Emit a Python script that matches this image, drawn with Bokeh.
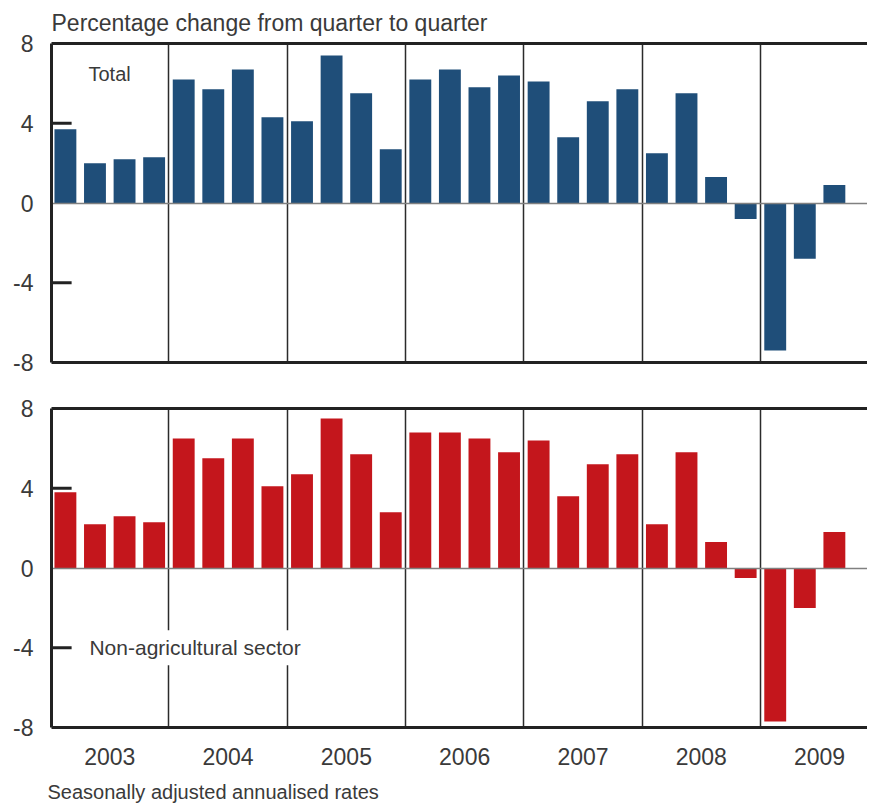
from bokeh.plotting import figure
from bokeh.models import Range1d, FixedTicker, LinearAxis, Label, Title
from bokeh.layouts import column
from bokeh.embed import file_html
from bokeh.resources import INLINE

# ---- data ----
years = ["2003", "2004", "2005", "2006", "2007", "2008", "2009"]
quarters = [f"{y} Q{q}" for y in years for q in (1, 2, 3, 4)][:27]
total = [3.7, 2.0, 2.2, 2.3,
         6.2, 5.7, 6.7, 4.3,
         4.1, 7.4, 5.5, 2.7,
         6.2, 6.7, 5.8, 6.4,
         6.1, 3.3, 5.1, 5.7,
         2.5, 5.5, 1.3, -0.8,
         -7.4, -2.8, 0.9]
non_agri = [3.8, 2.2, 2.6, 2.3,
            6.5, 5.5, 6.5, 4.1,
            4.7, 7.5, 5.7, 2.8,
            6.8, 6.8, 6.5, 5.8,
            6.4, 3.6, 5.2, 5.7,
            2.2, 5.8, 1.3, -0.5,
            -7.7, -2.0, 1.8]
y_ticks = [-8, -4, 0, 4, 8]
y_tick_labels = ["-8", "-4", "0", "4", "8"]
title_text = "Percentage change from quarter to quarter"
footer_text = "Seasonally adjusted annualised rates"

BLUE = "#1f4e79"
RED = "#c4161c"
TXT = "#3a3a3a"
FONT = "Liberation Sans"

idx = list(range(len(quarters)))
dividers = [4 * k - 0.5 for k in range(1, len(years))]
year_pos = [4 * k + 1.5 for k in range(len(years))]
X0, X1 = -0.47, 27.12


def make_panel(values, color, label_text, label_x, label_y, top_border,
               bottom_border, show_years, label_bg, label_size):
    p = figure(frame_width=816, frame_height=319,
               x_range=Range1d(X0, X1), y_range=Range1d(-8, 8),
               output_backend="svg", toolbar_location=None,
               min_border_left=51, min_border_right=0,
               min_border_top=top_border, min_border_bottom=bottom_border)
    p.outline_line_color = None
    p.grid.visible = False
    p.background_fill_color = "white"
    p.border_fill_color = "white"

    p.vspan(x=dividers, line_color="#2b2b2b", line_width=1.5)
    p.vbar(x=idx, top=values, width=0.74, fill_color=color, line_color=None)
    p.hspan(y=[0], line_color="#808080", line_width=1.5)
    # inward tick marks at +/-4
    p.segment(x0=[X0, X0], y0=[4, -4], x1=[X0 + 0.68, X0 + 0.68], y1=[4, -4],
              line_color="#222222", line_width=3)

    ya = p.yaxis[0]
    ya.ticker = FixedTicker(ticks=y_ticks)
    ya.major_label_overrides = {t: s for t, s in zip(y_ticks, y_tick_labels)}
    ya.major_tick_in = 0
    ya.major_tick_out = 0
    ya.major_label_standoff = 18
    ya.axis_line_width = 3
    ya.axis_line_color = "#222222"
    ya.major_label_text_font = FONT
    ya.major_label_text_font_size = "23px"
    ya.major_label_text_color = TXT

    xa = p.xaxis[0]
    xa.axis_line_width = 3
    xa.axis_line_color = "#222222"
    xa.major_tick_line_color = None
    xa.minor_tick_line_color = None
    xa.major_tick_in = 0
    xa.major_tick_out = 0
    if show_years:
        xa.ticker = FixedTicker(ticks=year_pos)
        xa.major_label_overrides = {pos: y for pos, y in zip(year_pos, years)}
        xa.major_label_standoff = 20
        xa.major_label_text_font = FONT
        xa.major_label_text_font_size = "23px"
        xa.major_label_text_color = TXT
    else:
        xa.ticker = FixedTicker(ticks=[])

    top = LinearAxis(ticker=FixedTicker(ticks=[]), axis_line_width=3,
                     axis_line_color="#222222", major_tick_line_color=None,
                     minor_tick_line_color=None)
    p.add_layout(top, "above")

    lab = Label(x=label_x, y=label_y, text=label_text, text_font=FONT,
                text_font_size=label_size, text_color=TXT, text_baseline="middle",
                text_align="left")
    if label_bg:
        lab.background_fill_color = "white"
        lab.padding = 6
    p.add_layout(lab)
    return p


p1 = make_panel(total, BLUE, "Total", 0.78, 6.45, 43, 18, False, False, "20px")
p1.add_layout(Title(text=title_text, align="left", offset=0, text_font=FONT,
                    text_font_size="23px", text_font_style="normal",
                    text_color=TXT, standoff=15), "above")

p2 = make_panel(non_agri, RED, "Non-agricultural sector", 0.61, -4.0, 28, 76,
                True, True, "21px")
p2.add_layout(Title(text=footer_text, align="left", offset=-4, text_font=FONT,
                    text_font_size="20px", text_font_style="normal",
                    text_color=TXT, standoff=22), "below")

layout = column(p1, p2, spacing=0)
open("out.html", "w").write(file_html(layout, INLINE))
